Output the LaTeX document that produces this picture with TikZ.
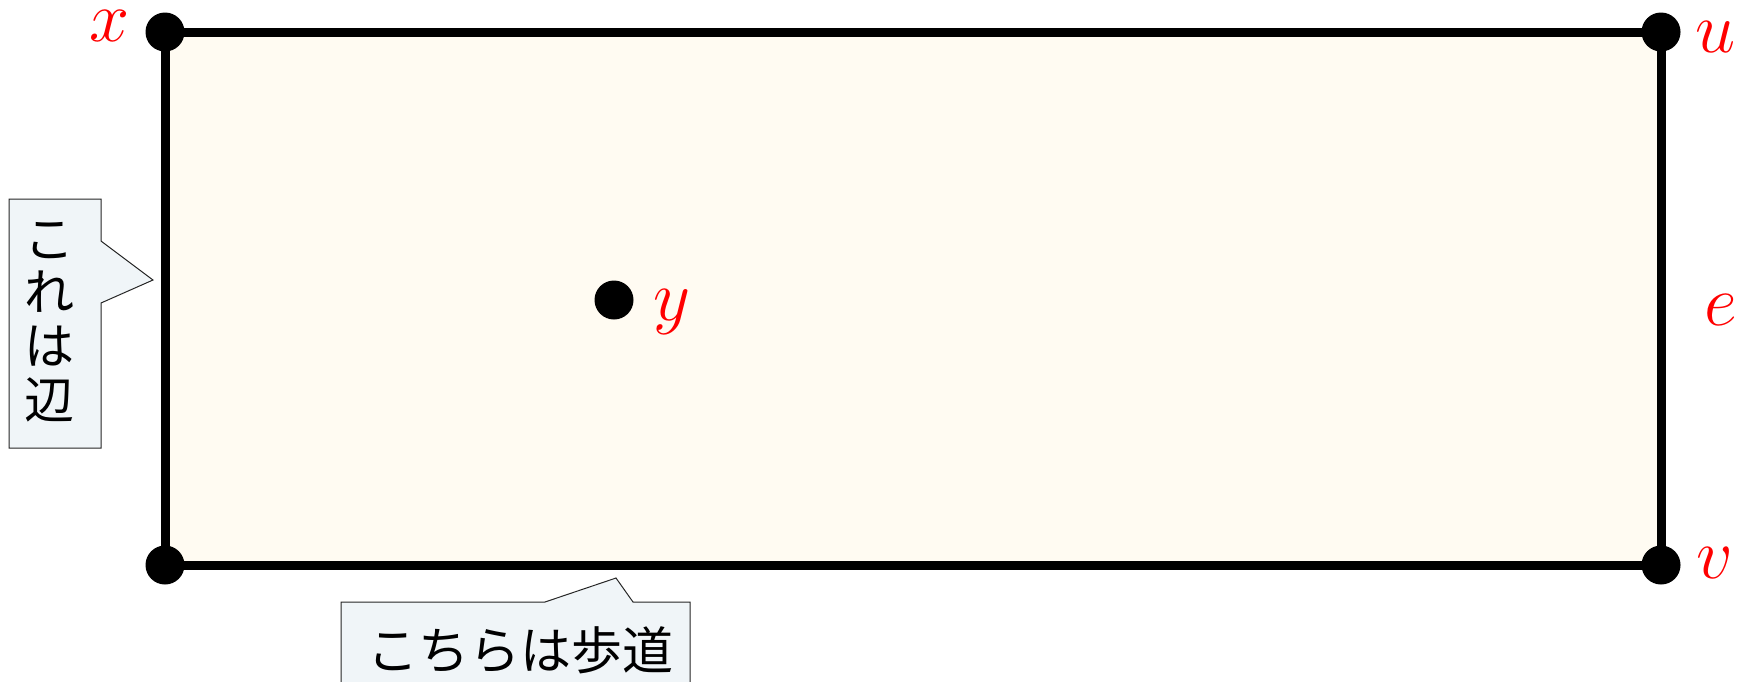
\RequirePackage{fix-cm}
\documentclass[tikz,border=0pt]{standalone}
\usepackage{fontspec}
\newfontfamily\jpfont{Noto Sans CJK JP}
\definecolor{cream}{HTML}{FFFBF2}
\definecolor{callfill}{HTML}{F0F5F8}
\tikzset{
  dotnode/.style={circle,fill=black,inner sep=0pt,minimum size=19.5pt},
  lbl/.style={text=red,anchor=base,inner sep=0pt,font=\fontsize{36}{42}\selectfont},
  edgeline/.style={line width=4.5pt,line join=miter},
  callout/.style={draw=black!85,line width=0.5pt,fill=callfill},
  jptext/.style={inner sep=0pt,font=\jpfont\fontsize{25}{26.9}\selectfont}
}
\begin{document}
\begin{tikzpicture}[x=0.5pt,y=-0.5pt]
\useasboundingbox (0,0) rectangle (1748,681);
\clip (0,0) rectangle (1748,681);
% corners
\coordinate (tl) at (165,32);
\coordinate (tr) at (1661,32);
\coordinate (br) at (1661,565);
\coordinate (bl) at (165,565);
\fill[cream] (tl) rectangle (br);
\draw[edgeline] (tl) -- (tr) -- (br) -- (bl) -- cycle;
\node[dotnode] (nx) at (tl) {};
\node[dotnode] (nu) at (tr) {};
\node[dotnode] (nv) at (br) {};
\node[dotnode] (nw) at (bl) {};
\node[dotnode] (ny) at (614,300) {};
% labels
\node[lbl] (lx) at (110,41) {$x$};
\node[lbl] (lu) at (1716,52) {$u$};
\node[lbl] (le) at (1721,325) {$e$};
\node[lbl] (lv) at (1715,578) {$v$};
\node[lbl] (ly) at (672,320) {$y$};
% left callout
\draw[callout] (9,199) -- (101,199) -- (101,241) -- (153,280) -- (101,303) -- (101,448) -- (9,448) -- cycle;
\node[jptext,align=center] (c1) at (50,322) {こ\\れ\\は\\辺};
% bottom callout
\draw[callout] (341,602) -- (545,602) -- (616,578) -- (633,602) -- (690,602) -- (690,720) -- (341,720) -- cycle;
\node[jptext,font=\jpfont\fontsize{25.5}{30}\selectfont] (c2) at (520,650) {こちらは歩道};
\end{tikzpicture}
\end{document}
